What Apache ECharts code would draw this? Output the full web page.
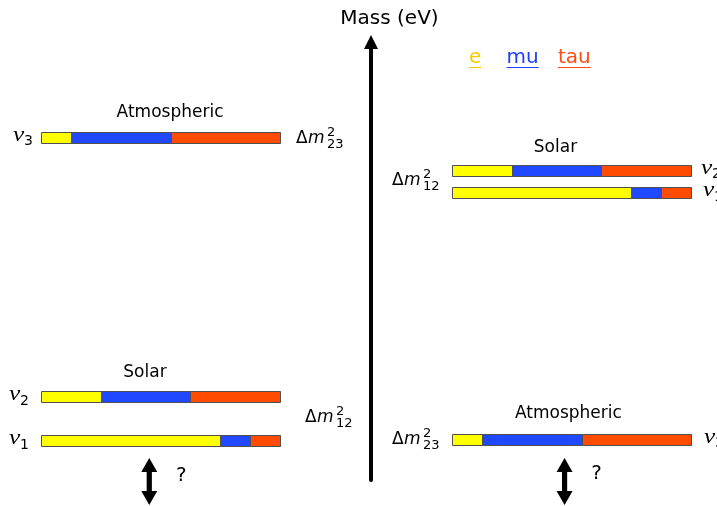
<!DOCTYPE html>
<html>
<head>
<meta charset="utf-8">
<title>Neutrino mass hierarchy</title>
<script src="https://cdn.jsdelivr.net/npm/echarts@6/dist/echarts.min.js"></script>
<style>
  html, body { margin: 0; padding: 0; background: #ffffff; }
  #chart { width: 717px; height: 506px; }
</style>
</head>
<body>
<div id="chart"></div>
<script>
// Flavour content (e, mu, tau) of each neutrino mass state
const flavours = ['e', 'mu', 'tau'];
const nu1Mix = [0.75, 0.125, 0.125];
const nu2Mix = [0.25, 0.375, 0.375];
const nu3Mix = [0.125, 0.42, 0.455];

// Mass level of nu1, nu2, nu3 on the (unscaled) mass axis
const normalMass = [9, 19, 78.3];
const invertedMass = [65.6, 70.7, 9.3];
const massAxisMax = 100;

// Oscillation labels
const solarName = 'Solar';
const atmosphericName = 'Atmospheric';

const mixes = [nu1Mix, nu2Mix, nu3Mix];
const barColors = ['#ffff00', '#1f48ff', '#ff4c00'];
const legendColors = ['#f7c800', '#1f40ff', '#ff4c14'];
const FONT = '"DejaVu Sans", sans-serif';

// Turn the mixing fractions into stacked [start, end, mass, flavour] pieces
function segments(masses) {
  const out = [];
  masses.forEach(function (m, s) {
    let acc = 0;
    mixes[s].forEach(function (f, k) {
      out.push([acc, acc + f, m, k]);
      acc += f;
    });
  });
  return out;
}

function renderSegment(params, api) {
  const a = api.coord([api.value(0), api.value(2)]);
  const b = api.coord([api.value(1), api.value(2)]);
  const h = 11;
  const x0 = Math.round(a[0]) + 0.5;
  const x1 = Math.round(b[0]) + 0.5;
  const y0 = Math.round(a[1] - h / 2) + 0.5;
  return {
    type: 'rect',
    shape: { x: x0, y: y0, width: x1 - x0, height: h },
    style: { fill: barColors[api.value(3)], stroke: '#505050', lineWidth: 1 }
  };
}

// nu_i label beside each bar; gaps per state for each side
const nuGapLeft = [-32, -32, -28];
const nuGapRight = [12, 10, 13];
function stateLabel(side) {
  return function (params, api) {
    const idx = api.value(2);
    const p = api.coord([api.value(0), api.value(1)]);
    const x0 = side < 0 ? p[0] + nuGapLeft[idx] : p[0] + nuGapRight[idx];
    return {
      type: 'group',
      children: [
        {
          type: 'text', x: x0, y: p[1] - 2, scaleX: 1.2,
          style: { text: 'ν', font: 'italic 21px "Liberation Serif", serif', fill: '#000', align: 'left', verticalAlign: 'middle' }
        },
        {
          type: 'text', x: x0 + 11, y: p[1] + 4.5,
          style: { text: String(idx + 1), font: '14px ' + FONT, fill: '#000', align: 'left', verticalAlign: 'middle' }
        }
      ]
    };
  };
}

const chart = echarts.init(document.getElementById('chart'), null, { renderer: 'canvas' });

const gridTop = 42, gridHeight = 438;
chart.setOption({
  animation: false,
  backgroundColor: '#ffffff',
  grid: [
    { left: 41, width: 239, top: gridTop, height: gridHeight, containLabel: false, outerBoundsMode: 'none' },
    { left: 452, width: 239, top: gridTop, height: gridHeight, containLabel: false, outerBoundsMode: 'none' },
    { left: 371, width: 1, top: gridTop, height: gridHeight, containLabel: false, outerBoundsMode: 'none' }
  ],
  xAxis: [0, 1, 2].map(function (i) {
    return { gridIndex: i, type: 'value', min: 0, max: 1, show: false };
  }),
  yAxis: [
    { gridIndex: 0, type: 'value', min: 0, max: massAxisMax, show: false },
    { gridIndex: 1, type: 'value', min: 0, max: massAxisMax, show: false },
    {
      gridIndex: 2, type: 'value', min: 0, max: massAxisMax, position: 'left',
      name: 'Mass (eV)', nameLocation: 'end', nameGap: 23,
      nameTextStyle: {
        fontFamily: 'DejaVu Sans', fontSize: 20, color: '#000',
        align: 'center', verticalAlign: 'middle', padding: [0, 0, 0, 37]
      },
      axisLine: {
        show: true, symbol: ['none', 'triangle'], symbolSize: [14, 14],
        lineStyle: { color: '#000', width: 4 }
      },
      axisTick: { show: false }, axisLabel: { show: false }, splitLine: { show: false }
    }
  ],
  series: [
    {
      type: 'custom', name: 'normal', xAxisIndex: 0, yAxisIndex: 0, clip: false, silent: true,
      data: segments(normalMass), encode: { x: [0, 1], y: 2 }, renderItem: renderSegment
    },
    {
      type: 'custom', name: 'inverted', xAxisIndex: 1, yAxisIndex: 1, clip: false, silent: true,
      data: segments(invertedMass), encode: { x: [0, 1], y: 2 }, renderItem: renderSegment
    },
    {
      type: 'custom', name: 'normal states', xAxisIndex: 0, yAxisIndex: 0, clip: false, silent: true,
      data: normalMass.map(function (m, i) { return [0, m, i]; }),
      encode: { x: 0, y: 1 }, renderItem: stateLabel(-1)
    },
    {
      type: 'custom', name: 'inverted states', xAxisIndex: 1, yAxisIndex: 1, clip: false, silent: true,
      data: invertedMass.map(function (m, i) { return [1, m, i]; }),
      encode: { x: 0, y: 1 }, renderItem: stateLabel(1)
    }
  ]
});

// ---- annotations placed relative to the levels ----
function px(grid, frac, m) { return chart.convertToPixel({ gridIndex: grid }, [frac, m]); }

const measureCtx = document.createElement('canvas').getContext('2d');
function textWidth(t, font) { measureCtx.font = font; return measureCtx.measureText(t).width; }

function plainText(x, y, text, font, fill, align) {
  return {
    type: 'text', x: x, y: y, silent: true,
    style: { text: text, font: font, fill: fill || '#000', align: align || 'center', verticalAlign: 'middle' }
  };
}

// Δm²_ij label, x = left edge of Δ, y = middle of the Δm glyphs
function splitting(x, y, ij) {
  return {
    type: 'group', silent: true,
    children: [
      plainText(x, y, 'Δ', '17px ' + FONT, '#000', 'left'),
      plainText(x + 12, y, 'm', 'italic 17px ' + FONT, '#000', 'left'),
      plainText(x + 31, y - 6, '2', '13px ' + FONT, '#000', 'left'),
      plainText(x + 31, y + 6.5, ij, '13px ' + FONT, '#000', 'left')
    ]
  };
}

function doubleArrow(cx, top, bottom) {
  const hw = 8, hh = 14, sw = 2.6;
  return {
    type: 'polygon', silent: true,
    shape: {
      points: [
        [cx, top], [cx + hw, top + hh], [cx + sw, top + hh], [cx + sw, bottom - hh],
        [cx + hw, bottom - hh], [cx, bottom], [cx - hw, bottom - hh], [cx - sw, bottom - hh],
        [cx - sw, top + hh], [cx - hw, top + hh]
      ]
    },
    style: { fill: '#000' }
  };
}

const graphics = [];
const labelFont = '17px ' + FONT;

// left spectrum (normal ordering)
const l3 = px(0, 0.54, normalMass[2]);
const l2 = px(0, 0.435, normalMass[1]);
graphics.push(plainText(l3[0], l3[1] - 24, atmosphericName, labelFont));
graphics.push(plainText(l2[0], l2[1] - 24, solarName, labelFont));
const lEnd = px(0, 1, normalMass[2]);
const lMid = px(0, 1, (normalMass[0] + normalMass[1]) / 2);
graphics.push(splitting(lEnd[0] + 16, lEnd[1] + 1.5, '23'));
graphics.push(splitting(lMid[0] + 25, lMid[1] - 1.5, '12'));

// right spectrum (inverted ordering)
const r2 = px(1, 0.433, invertedMass[1]);
const r3 = px(1, 0.487, invertedMass[2]);
graphics.push(plainText(r2[0], r2[1] - 23, solarName, labelFont));
graphics.push(plainText(r3[0], r3[1] - 26, atmosphericName, labelFont));
const rMid = px(1, 0, (invertedMass[0] + invertedMass[1]) / 2);
const rLow = px(1, 0, invertedMass[2]);
graphics.push(splitting(rMid[0] - 60, rMid[1] - 1, '12'));
graphics.push(splitting(rLow[0] - 60, rLow[1], '23'));

// unknown absolute scale
const base = px(2, 0, 0)[1];
const la = px(0, 0.453, 0);
const ra = px(1, 0.471, 0);
graphics.push(doubleArrow(la[0], base - 22, base + 25));
graphics.push(doubleArrow(ra[0], base - 22, base + 25));
graphics.push(plainText(la[0] + 32, base - 4.5, '?', '20px ' + FONT));
graphics.push(plainText(ra[0] + 32, base - 6, '?', '20px ' + FONT));

// flavour key
const keyFont = '20px ' + FONT;
const keyX = [469, 506.5, 558];
flavours.forEach(function (f, k) {
  const w = textWidth(f, keyFont);
  graphics.push(plainText(keyX[k], 57.4, f, keyFont, legendColors[k], 'left'));
  graphics.push({
    type: 'line', silent: true,
    shape: { x1: keyX[k], y1: 67.5, x2: keyX[k] + w, y2: 67.5 },
    style: { stroke: legendColors[k], lineWidth: 1.2 }
  });
});

chart.setOption({ graphic: { elements: graphics } });
</script>
</body>
</html>
